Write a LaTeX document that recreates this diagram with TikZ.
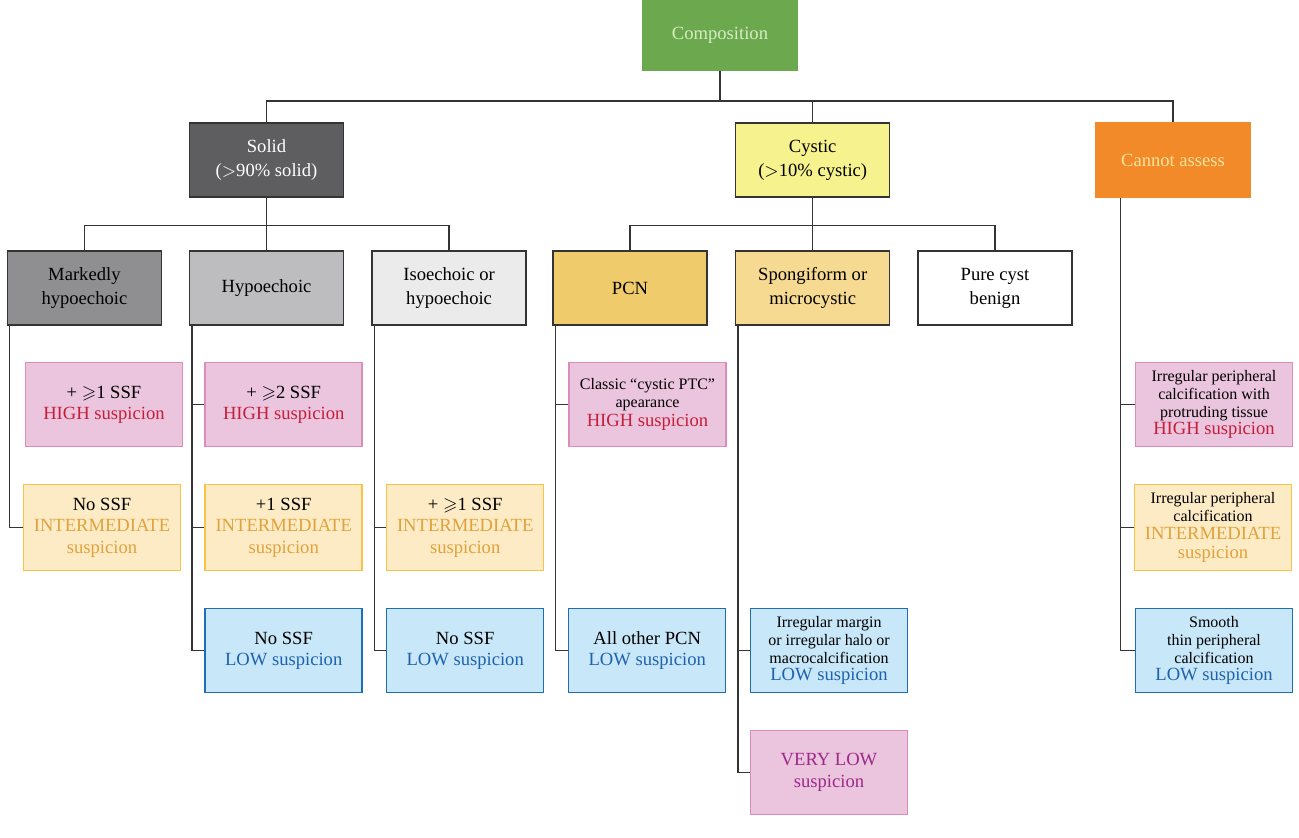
\documentclass[tikz,border=0pt]{standalone}
\usepackage{amssymb}
\usepackage{fontspec}
\setmainfont{Liberation Serif}
\definecolor{compgreen}{HTML}{6CA84E}
\definecolor{comptext}{HTML}{D6EDC2}
\definecolor{soliddark}{HTML}{5E5E60}
\definecolor{linedark}{HTML}{343434}
\definecolor{markgray}{HTML}{8F8F91}
\definecolor{hypogray}{HTML}{BDBDBF}
\definecolor{isogray}{HTML}{EBEBEC}
\definecolor{cystyellow}{HTML}{F6F28E}
\definecolor{pcngold}{HTML}{F0CB6B}
\definecolor{sponggold}{HTML}{F6DA92}
\definecolor{cannotorange}{HTML}{F28A2A}
\definecolor{cannottext}{HTML}{FCE49A}
\definecolor{highfill}{HTML}{EBC4DE}
\definecolor{highdraw}{HTML}{DC8CB9}
\definecolor{highred}{HTML}{C41E3A}
\definecolor{midfill}{HTML}{FDEBC6}
\definecolor{middraw}{HTML}{F9C34A}
\definecolor{midtext}{HTML}{E0A23A}
\definecolor{lowfill}{HTML}{C8E7F8}
\definecolor{lowdraw}{HTML}{1F6EB5}
\definecolor{lowtext}{HTML}{1E62AE}
\definecolor{vlowtext}{HTML}{9C2A88}
\newcommand{\smalltxt}{\fontsize{8}{8.6}\selectfont}
\tikzset{
  catbox/.style={draw=linedark, line width=0.75pt, minimum width=77pt, minimum height=37pt,
    align=center, inner sep=1pt, font=\fontsize{9.3}{12}\selectfont},
  riskbox/.style={line width=0.75pt, minimum width=78.5pt, minimum height=42pt,
    align=center, inner sep=1pt, font=\fontsize{9.3}{10.8}\selectfont},
  highbox/.style={riskbox, fill=highfill, draw=highdraw},
  midbox/.style={riskbox, fill=midfill, draw=middraw, minimum height=43pt},
  lowbox/.style={riskbox, fill=lowfill, draw=lowdraw},
  link/.style={draw=linedark, line width=0.75pt}
}
\begin{document}
\begin{tikzpicture}[x=0.5pt, y=-0.5pt]
   \useasboundingbox (0,0) rectangle (1299,837);
   % top level
   \node[catbox, fill=compgreen, draw=compgreen, text=comptext, minimum height=35pt] (comp) at (720,35) {Composition};
   \node[catbox, fill=soliddark, text=white] (solid) at (266.5,160) {Solid\\($>$90\% solid)};
   \node[catbox, fill=cystyellow] (cyst) at (812.7,160) {Cystic\\($>$10\% cystic)};
   \node[catbox, fill=cannotorange, draw=cannotorange, text=cannottext] (cannot) at (1173,160) {Cannot assess};

   % echogenicity / cystic subtypes
   \node[catbox, fill=markgray] (mark) at (84.4,288) {Markedly\\hypoechoic};
   \node[catbox, fill=hypogray] (hypo) at (266.5,288) {Hypoechoic};
   \node[catbox, fill=isogray] (iso) at (449.1,288) {Isoechoic or\\hypoechoic};
   \node[catbox, fill=pcngold] (pcn) at (630,288) {PCN};
   \node[catbox, fill=sponggold] (spong) at (812.7,288) {Spongiform or\\microcystic};
   \node[catbox, fill=white] (pure) at (995,288) {Pure cyst\\benign};

   % suspicion boxes
   \node[highbox] (markhigh) at (104,404.7) {+ $\geqslant$1 SSF\\\textcolor{highred}{HIGH suspicion}};
   \node[midbox] (markmid) at (102,527.7) {No SSF\\\textcolor{midtext}{INTERMEDIATE}\\\textcolor{midtext}{suspicion}};

   \node[highbox] (hypohigh) at (283.7,404.7) {+ $\geqslant$2 SSF\\\textcolor{highred}{HIGH suspicion}};
   \node[midbox] (hypomid) at (283.7,527.7) {+1 SSF\\\textcolor{midtext}{INTERMEDIATE}\\\textcolor{midtext}{suspicion}};
   \node[lowbox] (hypolow) at (283.7,650.7) {No SSF\\\textcolor{lowtext}{LOW suspicion}};

   \node[midbox] (isomid) at (465.2,527.7) {+ $\geqslant$1 SSF\\\textcolor{midtext}{INTERMEDIATE}\\\textcolor{midtext}{suspicion}};
   \node[lowbox] (isolow) at (465.2,650.7) {No SSF\\\textcolor{lowtext}{LOW suspicion}};

   \node[highbox] (pcnhigh) at (647.5,404.7) {\smalltxt Classic ``cystic PTC''\\[-2pt]\smalltxt apearance\\[-1pt]\textcolor{highred}{HIGH suspicion}};
   \node[lowbox] (pcnlow) at (647.2,650.7) {All other PCN\\\textcolor{lowtext}{LOW suspicion}};

   \node[lowbox] (sponglow) at (829,650.7) {\smalltxt Irregular margin\\[-2pt]\smalltxt or irregular halo or\\[-2pt]\smalltxt macrocalcification\\[-2pt]\textcolor{lowtext}{LOW suspicion}};
   \node[highbox] (spongvlow) at (829,772.5) {\textcolor{vlowtext}{VERY LOW}\\\textcolor{vlowtext}{suspicion}};

   \node[highbox] (canhigh) at (1214,404.7) {\smalltxt Irregular peripheral\\[-2pt]\smalltxt calcification with\\[-2pt]\smalltxt protruding tissue\\[-2pt]\textcolor{highred}{HIGH suspicion}};
   \node[midbox] (canmid) at (1213,527.7) {\smalltxt Irregular peripheral\\[-2pt]\smalltxt calcification\\[-2pt]\textcolor{midtext}{INTERMEDIATE}\\[-1pt]\textcolor{midtext}{suspicion}};
   \node[lowbox] (canlow) at (1214,650.7) {\smalltxt Smooth\\[-2pt]\smalltxt thin peripheral\\[-2pt]\smalltxt calcification\\[-2pt]\textcolor{lowtext}{LOW suspicion}};

   % tree links
   \foreach \c in {solid,cyst,cannot}
     \draw[link] (comp.south) -- ++(0,30) -| (\c.north);
   \foreach \c in {mark,hypo,iso}
     \draw[link] (solid.south) -- ++(0,27.5) -| (\c.north);
   \foreach \c in {pcn,spong,pure}
     \draw[link] (cyst.south) -- ++(0,27.5) -| (\c.north);

   % side branches
   \foreach \p/\c in {mark/markmid, hypo/hypohigh, hypo/hypomid, hypo/hypolow,
                      iso/isomid, iso/isolow, pcn/pcnhigh, pcn/pcnlow,
                      spong/sponglow, spong/spongvlow}
     \draw[link] ([xshift=1.5pt]\p.south west) |- (\c.west);
   \foreach \c in {canhigh,canmid,canlow}
     \draw[link] ([xshift=12.5pt]cannot.south west) |- (\c.west);
\end{tikzpicture}
\end{document}
